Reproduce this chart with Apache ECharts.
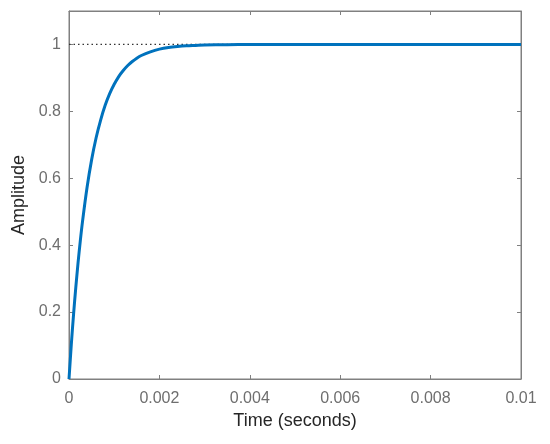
<!DOCTYPE html>
<html><head><meta charset="utf-8">
<script src="https://cdn.jsdelivr.net/npm/echarts@6/dist/echarts.min.js"></script>
<style>html,body{margin:0;padding:0;background:#fff}#c{width:550px;height:444px}</style>
</head><body><div id="c"></div>
<script>
const timeValues = [0,0.00005,0.0001,0.00015,0.0002,0.00025,0.0003,0.0004,0.0005,0.0006,0.0007,0.0008,0.0009,0.001,0.0011,0.0012,0.0013,0.0014,0.0015,0.0016,0.0018,0.002,0.0022,0.0024,0.0026,0.0028,0.003,0.0035,0.004,0.005,0.006,0.007,0.008,0.009,0.01];
const amplitudeValues = [0,0.101,0.192,0.273,0.347,0.413,0.472,0.573,0.655,0.721,0.774,0.818,0.853,0.881,0.904,0.922,0.937,0.949,0.959,0.967,0.978,0.986,0.991,0.994,0.996,0.997,0.998,0.9994,0.9998,1,1,1,1,1,1];
const steadyState = [[0,1],[0.01,1]];
const xTicks = [0,0.002,0.004,0.006,0.008,0.01];
const yTicks = [0,0.2,0.4,0.6,0.8,1];

const axisGray = '#808080';
const labelGray = '#6e6e6e';
const font = 'Liberation Sans, Arial, sans-serif';
const chart = echarts.init(document.getElementById('c'));
function xAx(pos, extra){
  return Object.assign({type:'value',min:0,max:0.01,interval:0.002,position:pos,splitLine:{show:false},
    axisLine:{show:true,onZero:false,lineStyle:{color:axisGray}},
    axisTick:{show:true,inside:true,length:4,lineStyle:{color:axisGray}}}, extra);
}
function yAx(pos, extra){
  return Object.assign({type:'value',min:0,max:1.1,interval:0.2,position:pos,splitLine:{show:false},
    axisLine:{show:true,onZero:false,lineStyle:{color:axisGray}},
    axisTick:{show:true,inside:true,length:4,lineStyle:{color:axisGray}}}, extra);
}
chart.setOption({
  animation:false,
  grid:{left:69,right:29,top:11,bottom:65,show:true,borderColor:axisGray,borderWidth:1,backgroundColor:'#fff'},
  xAxis:[
    xAx('bottom',{
      name:'Time (seconds)',nameLocation:'middle',nameGap:32,
      nameTextStyle:{color:'#262626',fontSize:18,fontFamily:font,verticalAlign:'top'},
      axisLabel:{color:labelGray,fontSize:16,fontFamily:font,margin:12,customValues:xTicks,
        formatter:v=>String(+v.toFixed(3))}}),
    xAx('top',{axisLabel:{show:false}})
  ],
  yAxis:[
    yAx('left',{
      name:'Amplitude',nameLocation:'middle',nameGap:41,
      nameTextStyle:{color:'#262626',fontSize:18,fontFamily:font},
      axisLabel:{color:labelGray,fontSize:16,fontFamily:font,margin:8,customValues:yTicks,
        formatter:v=>String(+v.toFixed(1))}}),
    yAx('right',{axisLabel:{show:false}})
  ],
  series:[
    {type:'line',data:steadyState,showSymbol:false,silent:true,z:1,
      lineStyle:{color:'#333',width:1.2,type:[1.5,3]}},
    {type:'line',data:timeValues.map((t,i)=>[t,amplitudeValues[i]]),showSymbol:false,smooth:0.3,z:3,
      lineStyle:{color:'#0072BD',width:3}}
  ]
});
</script></body></html>
